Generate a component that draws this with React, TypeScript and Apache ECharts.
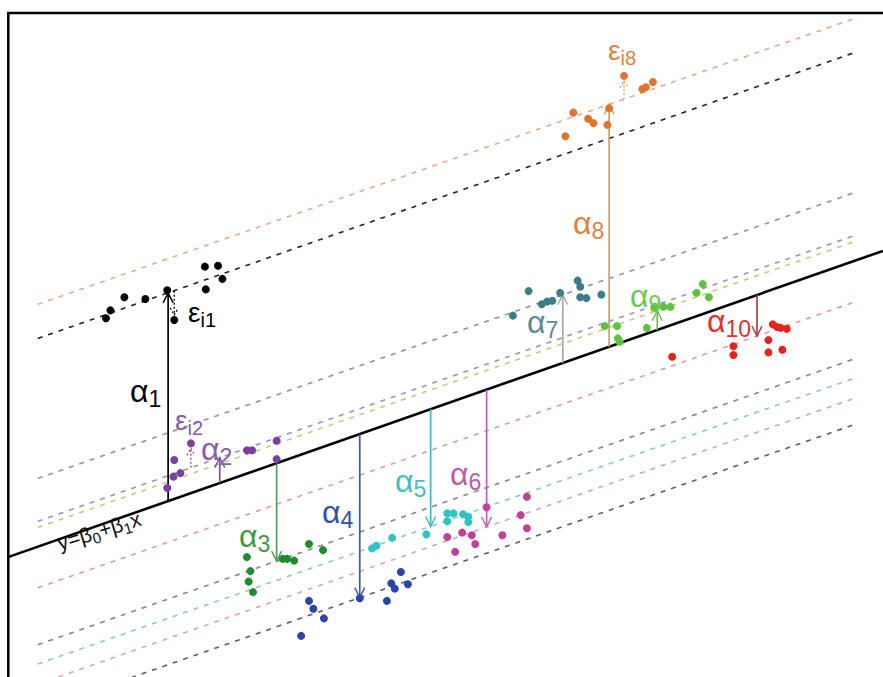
import React, { useEffect, useRef } from 'react';
import * as echarts from 'echarts';

const FONT = '"Liberation Sans", Arial, Helvetica, sans-serif';

// Regression line y = b0 + b1 x (data units)
const intercept = 1.37;
const slope = 0.35;
const guideStart = 0.34;
const guideEnd = 9.7;

// Group effects (offset of each group's line from the regression line)
const alphas = [2.38, 0.29, -1.12, -1.87, -1.34, -1.57, 0.78, 2.77, 0.22, -0.47];
const arrowX = [1.83, 2.42, 3.07, 4.02, 4.83, 5.47, 6.34, 6.87, 7.42, 8.56];

// Observations per group
const group1Points = [[2.25, 4.69], [2.40, 4.70], [2.45, 4.55], [2.26, 4.43], [1.82, 4.42], [1.33, 4.34], [1.57, 4.32], [1.17, 4.19], [1.12, 4.10], [1.90, 4.08]];
const group2Points = [[2.09, 2.67], [1.90, 2.48], [1.97, 2.33], [1.89, 2.29], [1.82, 2.16], [2.73, 2.59], [2.79, 2.59], [3.07, 2.70], [3.07, 2.49]];
const group3Points = [[2.73, 1.37], [2.77, 1.21], [2.75, 1.09], [2.80, 0.97], [3.14, 1.35], [3.19, 1.35], [3.27, 1.33], [3.44, 1.52], [3.60, 1.45]];
const group4Points = [[3.35, 0.47], [3.44, 0.87], [3.49, 0.78], [3.61, 0.67], [4.02, 0.90], [4.33, 0.87], [4.38, 1.07], [4.42, 1.01], [4.49, 1.20], [4.57, 1.06]];
const group5Points = [[4.16, 1.47], [4.21, 1.50], [4.39, 1.59], [4.78, 1.63], [5.02, 1.87], [5.02, 1.78], [5.09, 1.87], [5.20, 1.86], [5.26, 1.83], [5.26, 1.77]];
const group6Points = [[5.02, 1.60], [5.11, 1.43], [5.19, 1.65], [5.30, 1.62], [5.34, 1.52], [5.47, 1.94], [5.65, 1.62], [5.86, 1.85], [5.93, 2.06], [5.93, 1.70]];
const group7Points = [[5.77, 4.13], [5.95, 4.41], [6.10, 4.26], [6.16, 4.29], [6.22, 4.30], [6.31, 4.39], [6.51, 4.53], [6.54, 4.46], [6.54, 4.34], [6.61, 4.33], [6.78, 4.37]];
const group8Points = [[6.46, 6.45], [6.37, 6.18], [6.63, 6.38], [6.69, 6.33], [6.85, 6.31], [6.87, 6.50], [7.04, 6.87], [7.25, 6.72], [7.29, 6.74], [7.37, 6.80]];
const group9Points = [[6.82, 4.01], [6.96, 4.01], [6.97, 3.87], [6.99, 3.83], [7.30, 3.99], [7.39, 4.23], [7.49, 4.23], [7.57, 4.23], [7.87, 4.39], [7.94, 4.49], [8.01, 4.34]];
const group10Points = [[7.59, 3.66], [8.29, 3.78], [8.29, 3.68], [8.69, 3.85], [8.69, 3.71], [8.74, 4.03], [8.79, 4.00], [8.83, 3.99], [8.90, 3.98], [8.85, 3.74]];
const allGroups = [group1Points, group2Points, group3Points, group4Points, group5Points, group6Points, group7Points, group8Points, group9Points, group10Points];

// Residuals shown (group index, point index)
const residualGroup = [0, 1, 7];
const residualPoint = [9, 0, 6];

// Colours
const pointColors = ['#000000', '#7b3f9e', '#1f8a2e', '#2a45a8', '#2ec4c4', '#c0409a', '#3d7d87', '#e0742c', '#5cc43c', '#e8221e'];
const arrowColors = ['#000000', '#8050a8', '#5a9a5a', '#3a5ab0', '#40b8b8', '#c060b0', '#a0a8a8', '#c9a46a', '#70c050', '#b04040'];
const guideColors = ['#222222', '#9e8fc0', '#7f8a80', '#5a5a7a', '#8fc8c8', '#e0a0c0', '#9090a8', '#eba98f', '#c0cc80', '#e59a9a'];

// Annotation texts
const labelMain = ['α', 'ε', 'ε', 'α', 'α', 'α', 'α', 'α', 'α', 'α', 'α', 'α', 'ε'];
const labelSub = ['1', 'i1', 'i2', '2', '3', '4', '5', '6', '7', '8', '9', '10', 'i8'];
const labelColors = ['#000000', '#000000', '#8a5ab0', '#8a5ab0', '#3a9a4a', '#3050a8', '#40c0c0', '#c05aa8', '#5a8a95', '#e08040', '#70c850', '#e03030', '#e08040'];
const labelAnchors = [[1.394, 3.143], [2.057, 4.057], [1.909, 2.823], [2.206, 2.48], [2.64, 1.486], [3.589, 1.76], [4.423, 2.114], [5.051, 2.194], [5.931, 3.931], [6.457, 5.063], [7.109, 4.229], [7.989, 3.943], [6.857, 7.051]];
const formulaParts = ['y=β', '0', '+β', '1', 'x'];
const formulaIsSub = [false, true, false, true, false];
const formulaAnchor = [0.594, 1.446];

let measureCtx: CanvasRenderingContext2D | null = null;
function textWidth(text: string, font: string): number {
  if (!measureCtx) measureCtx = document.createElement('canvas').getContext('2d');
  if (!measureCtx) return text.length * 10;
  measureCtx.font = font;
  return measureCtx.measureText(text).width;
}

const lineY = (x: number, a: number) => intercept + slope * x + a;

export default function App() {
  const ref = useRef<HTMLDivElement>(null);
  useEffect(() => {
    if (!ref.current) return;
    const chart = echarts.init(ref.current, undefined, { renderer: 'svg' });

    const guideSeries = alphas.map((a, i) => ({
      type: 'line',
      z: 1,
      silent: true,
      showSymbol: false,
      symbol: 'none',
      data: [[guideStart, lineY(guideStart, a)], [guideEnd, lineY(guideEnd, a)]],
      lineStyle: { color: guideColors[i], width: 1.6, type: [5, 6] },
    }));

    const pointSeries = allGroups.map((pts, i) => ({
      type: 'scatter',
      z: 4,
      symbolSize: 8,
      data: pts,
      itemStyle: { color: pointColors[i], opacity: 1 },
    }));

    const option: any = {
      animation: false,
      backgroundColor: '#ffffff',
      grid: { left: 8, right: 0, top: 12, bottom: 0, containLabel: false },
      xAxis: { type: 'value', min: 0, max: 10, show: false },
      yAxis: { type: 'value', min: 0, max: 7.6, show: false },
      graphic: [
        {
          type: 'rect',
          shape: { x: 8.3, y: 13, width: 900, height: 700 },
          style: { fill: 'none', stroke: '#000', lineWidth: 2.5 },
          z: 100,
        },
      ],
      series: [
        ...guideSeries,
        {
          type: 'line',
          z: 2,
          showSymbol: false,
          symbol: 'none',
          data: [[0, lineY(0, 0)], [10, lineY(10, 0)]],
          lineStyle: { color: '#000', width: 2.6 },
        },
        {
          type: 'custom',
          z: 3,
          coordinateSystem: 'cartesian2d',
          encode: { x: 0, y: 1 },
          data: arrowX.map((x, i) => [x, lineY(x, 0), lineY(x, alphas[i])]),
          renderItem: (params: any, api: any) => {
            const i = params.dataIndex;
            const x = api.value(0);
            const p0 = api.coord([x, api.value(1)]);
            const p1 = api.coord([x, api.value(2)]);
            const dir = p1[1] > p0[1] ? 1 : -1;
            const c = arrowColors[i];
            return {
              type: 'group',
              children: [
                { type: 'line', shape: { x1: p0[0], y1: p0[1], x2: p1[0], y2: p1[1] }, style: { stroke: c, lineWidth: 1.7 } },
                {
                  type: 'polyline',
                  shape: { points: [[p1[0] - 5, p1[1] - dir * 10], [p1[0], p1[1]], [p1[0] + 5, p1[1] - dir * 10]] },
                  style: { stroke: c, fill: 'none', lineWidth: 1.4 },
                },
              ],
            };
          },
        },
        {
          type: 'custom',
          z: 3,
          coordinateSystem: 'cartesian2d',
          encode: { x: 0, y: 1 },
          data: residualGroup.map((g, k) => {
            const pt = allGroups[g][residualPoint[k]];
            return [pt[0], lineY(pt[0], alphas[g]), pt[1]];
          }),
          renderItem: (params: any, api: any) => {
            const k = params.dataIndex;
            const c = arrowColors[residualGroup[k]];
            const x = api.value(0);
            const p0 = api.coord([x, api.value(1)]);
            const pe = api.coord([x, api.value(2)]);
            const dir = pe[1] > p0[1] ? 1 : -1;
            const p1 = [pe[0], pe[1] - dir * 5];
            return {
              type: 'group',
              children: [
                { type: 'line', shape: { x1: p0[0], y1: p0[1], x2: p1[0], y2: p1[1] }, style: { stroke: c, lineWidth: 1.3, lineDash: [2, 2] } },
                {
                  type: 'polyline',
                  shape: { points: [[p1[0] - 4, p1[1] - dir * 7], [p1[0], p1[1]], [p1[0] + 4, p1[1] - dir * 7]] },
                  style: { stroke: c, fill: 'none', lineWidth: 1.2, lineDash: [2, 2] },
                },
              ],
            };
          },
        },
        ...pointSeries,
        {
          type: 'custom',
          z: 5,
          coordinateSystem: 'cartesian2d',
          encode: { x: 0, y: 1 },
          data: labelAnchors,
          renderItem: (params: any, api: any) => {
            const i = params.dataIndex;
            const p = api.coord([api.value(0), api.value(1)]);
            const isEps = labelMain[i] === 'ε';
            const fs = isEps ? 28 : 32;
            const fsSub = isEps ? 20 : 23;
            const mf = `${fs}px ${FONT}`;
            const sf = `${fsSub}px ${FONT}`;
            const w = textWidth(labelMain[i], mf);
            const c = labelColors[i];
            return {
              type: 'group',
              children: [
                {
                  type: 'text', x: p[0], y: p[1] - 0.35 * fs,
                  style: { text: labelMain[i], font: mf, fill: c, textAlign: 'left', textVerticalAlign: 'middle' },
                },
                {
                  type: 'text', x: p[0] + w, y: p[1] + 5 - 0.35 * fsSub,
                  style: { text: labelSub[i], font: sf, fill: c, textAlign: 'left', textVerticalAlign: 'middle' },
                },
              ],
            };
          },
        },
        {
          type: 'custom',
          z: 5,
          coordinateSystem: 'cartesian2d',
          encode: { x: 0, y: 1 },
          data: [formulaAnchor],
          renderItem: (params: any, api: any) => {
            const p = api.coord([api.value(0), api.value(1)]);
            const children: any[] = [];
            let cx = 0;
            formulaParts.forEach((t, j) => {
              const sub = formulaIsSub[j];
              const fs = sub ? 15 : 21;
              const f = `${fs}px ${FONT}`;
              children.push({
                type: 'text', x: cx, y: (sub ? 4 : 0) - 0.35 * fs,
                style: { text: t, font: f, fill: '#111', textAlign: 'left', textVerticalAlign: 'middle' },
              });
              cx += textWidth(t, f);
            });
            return { type: 'group', x: p[0], y: p[1], rotation: 0.3, children };
          },
        },
      ],
    };
    chart.setOption(option);
    return () => chart.dispose();
  }, []);
  return <div ref={ref} style={{ position: 'fixed', left: 0, top: 0, width: 883, height: 677, background: '#fff' }} />;
}
